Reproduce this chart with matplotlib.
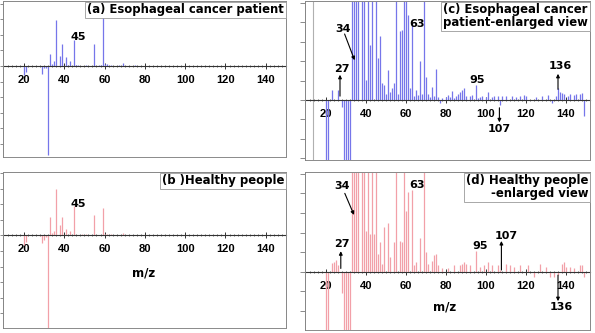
"""Breath mass spectra: esophageal cancer patient vs healthy people (full + enlarged)."""

import numpy as np
import matplotlib

matplotlib.use("Agg")
import matplotlib.pyplot as plt
from matplotlib.patches import Rectangle

plt.rcParams["font.family"] = ["Liberation Sans", "DejaVu Sans"]
plt.rcParams["font.weight"] = "bold"

# ---- data: m/z and intensity (units of one enlarged-view tick) ----
patient_mz = [20, 21, 23, 26, 28, 29, 30, 31, 32, 33, 34, 35, 36, 38, 39, 40, 41, 42, 43,
              45, 46, 47, 48, 49, 50, 51, 52, 53, 54, 55, 56, 57, 58, 59, 60, 61, 62, 63,
              64, 65, 66, 67, 68, 69, 70, 71, 72, 73, 74, 75, 76, 77, 78, 80, 81, 82, 83,
              84, 85, 86, 87, 88, 89, 90, 92, 93, 95, 96, 97, 98, 100, 101, 103, 104, 106,
              107, 108, 110, 113, 115, 117, 119, 120, 125, 128, 131, 133, 135, 136, 137,
              138, 139, 141, 142, 144, 145, 147, 148, 149]
patient_int = [-24, -16, 0.52, 0.52, -0.35, -20, -6, -5, -227, 32, 6, 12, 119, 27, 57, 1.03,
               23, 2.84, 12, 66, 2.15, 3.28, 0.86, 0.78, 0.3, 1.55, 0.43, 0.6, 0.86, 56,
               0.3, 3.53, 3.6, 180, 6, 4.4, 0.6, 3.97, 0.2, 0.5, 0.25, 2.0, 0.3, 7, 1.2,
               0.3, 0.15, 0.65, 0.2, 1.6, 0.17, -0.15, 0.1, 0.17, 0.25, 0.15, 0.48, 0.1,
               0.2, 0.3, 0.4, 0.5, 0.6, 0.2, 0.2, 0.25, 0.78, 0.1, 0.15, 0.2, 0.15, 0.4,
               0.15, 0.2, 0.2, -0.25, 0.2, 0.2, 0.2, 0.15, 0.2, 0.25, 0.2, 0.15, 0.2, 0.25,
               -0.15, 0.2, 0.6, 0.4, 0.35, 0.3, 0.2, 0.3, 0.25, 0.3, 0.3, 0.35, -0.8]

healthy_mz = [20, 21, 23, 24, 25, 26, 28, 29, 30, 31, 32, 33, 34, 35, 36, 38, 39, 40, 41,
              42, 43, 44, 45, 46, 47, 48, 49, 51, 52, 54, 55, 57, 58, 59, 60, 61, 63, 64,
              65, 67, 69, 70, 71, 73, 74, 75, 76, 78, 81, 84, 87, 88, 89, 90, 92, 95, 97,
              99, 101, 103, 106, 107, 110, 112, 114, 117, 121, 124, 127, 130, 132, 134,
              136, 138, 139, 140, 142, 144, 147, 148, 149]
healthy_int = [-25, -16, 0.43, 0.5, 0.6, 0.34, -1.1, -20, -12, -5, -240, 48, 6, 10, 119,
               26, 46, 2.1, 16, 1.95, 11, 1.95, 74, 0.93, 1.5, 0.42, 2.3, 2.5, 0.76, 1.5,
               52, 1.55, 1.5, 71, 3.1, 4.07, 4.15, 0.34, 0.5, 1.7, 7, 1.0, 0.42, 0.54,
               0.85, 0.93, 0.34, 0.17, 0.2, 0.34, 0.34, 0.42, 0.5, 0.42, 0.34, 1.05, 0.25,
               0.34, 0.5, 0.34, 0.34, 0.1, 0.4, 0.34, 0.25, 0.34, 0.34, -0.25, 0.42, 0.25,
               -0.25, -0.25, -0.15, 0.42, 0.5, 0.25, 0.25, 0.17, 0.34, 0.34, -0.25]

xtick_values = [20, 40, 60, 80, 100, 120, 140]
full_scale = 40.0  # intensity per tick in the full-scale panels

BLUE = "#7676ea"
PINK = "#f2a0a8"
LABEL_FONT = ["DejaVu Sans"]


def style_axes(ax, xlim, ylim, ytick_step, ytick_len):
    ax.set_xlim(*xlim)
    ax.set_ylim(*ylim)
    for side in ("top", "right", "left"):
        ax.spines[side].set_color("#8a8a8a")
        ax.spines[side].set_linewidth(0.7)
    ax.spines["left"].set_color("#444444")
    ax.spines["bottom"].set_position(("data", 0))
    ax.spines["bottom"].set_color("#333333")
    ax.spines["bottom"].set_linewidth(0.8)
    ax.add_patch(Rectangle((0, 0), 1, 1, transform=ax.transAxes, fill=False,
                           ec="#8a8a8a", lw=0.7, clip_on=False, zorder=5))
    ax.set_xticks(xtick_values)
    ax.set_xticks(np.arange(12, 151, 2), minor=True)
    ax.tick_params(axis="x", which="major", direction="inout", length=4, width=0.7,
                   pad=4.5, labelsize=8, colors="#333333", labelcolor="black")
    ax.tick_params(axis="x", which="minor", direction="inout", length=2, width=0.5,
                   colors="#333333")
    yt = np.arange(np.ceil(ylim[0] / ytick_step), np.floor(ylim[1] / ytick_step) + 1) * ytick_step
    ax.set_yticks(yt)
    ax.set_yticklabels([])
    ax.tick_params(axis="y", direction="out", length=ytick_len, width=0.6, colors="#777777")
    for lab in ax.get_xticklabels():
        lab.set_fontweight("bold")


def label_box(ax, text, align="left"):
    ax.text(0.993, 0.985, text, transform=ax.transAxes, ha="right", va="top",
            multialignment=align, fontsize=8.4, fontweight="bold", zorder=6,
            family=LABEL_FONT, linespacing=0.95,
            bbox=dict(boxstyle="square,pad=0.15", fc="white", ec="#9a9a9a", lw=0.6))


def arrow(ax, tail, tip):
    ax.annotate("", xy=tip, xytext=tail,
                arrowprops=dict(arrowstyle="-|>", color="black", lw=0.8,
                                mutation_scale=5, shrinkA=0, shrinkB=0))


def note(ax, x, y, s):
    ax.text(x, y, s, ha="center", va="center", fontsize=8, fontweight="bold", zorder=6,
            family=LABEL_FONT)


fig = plt.figure(figsize=(5.95, 3.33), dpi=100)
ax_a = fig.add_axes([0.005, 0.5285, 0.4756, 0.4685])
ax_b = fig.add_axes([0.005, 0.015, 0.4756, 0.4685])
ax_c = fig.add_axes([0.5126, 0.5195, 0.479, 0.4775])
ax_d = fig.add_axes([0.5126, 0.009, 0.479, 0.4745])

# (a) patient, full scale
ax_a.vlines(patient_mz, 0, patient_int, colors=BLUE, lw=0.9)
style_axes(ax_a, (9.6, 149.8), (-5.83 * full_scale, 4.17 * full_scale), full_scale, 2.2)
label_box(ax_a, "(a) Esophageal cancer patient")
note(ax_a, 47, 1.86 * full_scale, "45")

# (b) healthy, full scale
ax_b.vlines(healthy_mz, 0, healthy_int, colors=PINK, lw=0.9)
style_axes(ax_b, (9.6, 149.8), (-5.94 * full_scale, 4.06 * full_scale), full_scale, 2.2)
label_box(ax_b, "(b )Healthy people")
note(ax_b, 47, 2.0 * full_scale, "45")
ax_b.text(79.5, -2.4 * full_scale, "m/z", ha="center", va="center", fontsize=8.5,
          fontweight="bold", family=LABEL_FONT)

# (c) patient, enlarged
ax_c.vlines(patient_mz, 0, patient_int, colors=BLUE, lw=0.9)
ax_c.axvline(13.5, color="#b0b0b0", lw=0.8)
style_axes(ax_c, (9.5, 152), (-3.09, 5.1), 1.0, 3.5)
label_box(ax_c, "(c) Esophageal cancer\npatient-enlarged view", align="left")
note(ax_c, 28.5, 3.66, "34")
arrow(ax_c, (29.3, 3.4), (34.3, 2.05))
note(ax_c, 27.8, 1.6, "27")
arrow(ax_c, (27, 0.2), (27, 1.3))
note(ax_c, 65.4, 3.9, "63")
note(ax_c, 95.8, 1.05, "95")
note(ax_c, 137, 1.75, "136")
arrow(ax_c, (136, 0.55), (136, 1.35))
note(ax_c, 106.5, -1.5, "107")
arrow(ax_c, (106.7, -0.4), (106.7, -1.15))

# (d) healthy, enlarged
ax_d.vlines(healthy_mz, 0, healthy_int, colors=PINK, lw=0.9)
style_axes(ax_d, (9.5, 152), (-2.97, 5.09), 1.0, 3.5)
label_box(ax_d, "(d) Healthy people\n-enlarged view", align="right")
note(ax_d, 28.2, 4.39, "34")
arrow(ax_d, (29.4, 4.0), (34, 2.9))
note(ax_d, 27.8, 1.4, "27")
arrow(ax_d, (27.4, 0.17), (27.4, 1.05))
note(ax_d, 65.3, 4.42, "63")
note(ax_d, 97, 1.31, "95")
note(ax_d, 110, 1.84, "107")
arrow(ax_d, (107.7, 0.09), (107.7, 1.57))
note(ax_d, 137.6, -1.78, "136")
arrow(ax_d, (136, -0.17), (136, -1.5))
ax_d.text(79.5, -1.8, "m/z", ha="center", va="center", fontsize=8.5, fontweight="bold",
          family=LABEL_FONT)

fig.savefig("out.png", dpi=100)
